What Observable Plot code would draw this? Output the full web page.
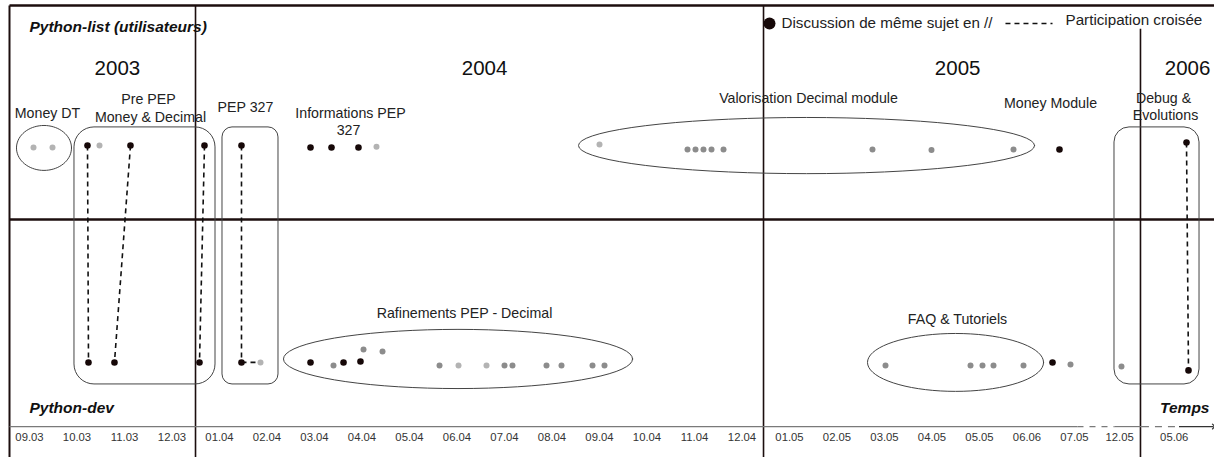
<!DOCTYPE html>
<html>
<head>
<meta charset="utf-8">
<script src="https://cdn.jsdelivr.net/npm/d3@7"></script>
<script src="https://cdn.jsdelivr.net/npm/@observablehq/plot@0.6"></script>
<style>
  html, body { margin: 0; padding: 0; background: #fff; }
  #chart svg { display: block; }
</style>
</head>
<body>
<div id="chart"></div>
<script>
// ---- Time axis (month index on a compressed timeline; 09.03 = 0) ----
const tickLabels = ["09.03","10.03","11.03","12.03","01.04","02.04","03.04","04.04","05.04","06.04","07.04","08.04","09.04","10.04","11.04","12.04","01.05","02.05","03.05","04.05","05.05","06.06","07.05","12.05","05.06"];
const tickMonths = [0,1,2,3,4,5,6,7,8,9,10,11,12,13,14,15,16,17,18,19,20,21,22,22.95,24.1];

// ---- Years ----
const yearNames = ["2003","2004","2005","2006"];
const yearLabelMonths = [1.85, 9.58, 19.54, 24.38];
const yearBoundaryMonths = [3.495, 15.453, 23.389];
const yearBoundaryTop = [1.657, 1.657, 1.55];

// ---- Lanes: 1 = Python-list (utilisateurs), 0 = Python-dev ----
// Discussions: [month, lane level, tone]
const listDiscussions = [
  [0.084, 1.0, "light"], [0.484, 1.0, "light"],
  [1.221, 1.009, "black"], [1.474, 1.009, "light"], [2.126, 1.009, "black"],
  [3.684, 1.009, "black"], [4.463, 1.009, "black"],
  [5.916, 1.0, "black"], [6.358, 1.0, "black"], [6.926, 1.0, "black"], [7.305, 1.003, "light"],
  [12.0, 1.014, "light"],
  [13.853, 0.991, "mid"], [14.021, 0.991, "mid"], [14.189, 0.991, "mid"], [14.358, 0.991, "mid"], [14.611, 0.991, "mid"],
  [17.747, 0.991, "mid"], [18.989, 0.989, "mid"], [20.716, 0.991, "mid"],
  [21.684, 0.991, "black"],
  [24.358, 1.023, "black"]
];
const devDiscussions = [
  [1.242, 0.005, "black"], [1.789, 0.005, "black"], [3.579, 0.005, "black"], [4.463, 0.005, "black"], [4.863, 0.005, "light"],
  [5.916, 0.005, "black"], [6.4, -0.009, "mid"], [6.611, 0.005, "black"], [6.968, 0.009, "black"],
  [7.032, 0.065, "mid"], [7.432, 0.056, "mid"],
  [8.632, -0.009, "mid"], [9.032, -0.009, "light"], [9.621, -0.009, "light"], [10.0, -0.009, "mid"], [10.168, -0.009, "mid"],
  [10.884, -0.009, "mid"], [11.2, -0.009, "mid"], [11.853, -0.009, "mid"], [12.105, -0.009, "mid"],
  [18.021, -0.009, "mid"], [19.811, -0.009, "mid"], [20.063, -0.009, "mid"], [20.295, -0.009, "mid"], [20.926, -0.009, "mid"],
  [21.537, 0.005, "black"], [21.916, -0.005, "mid"], [22.989, -0.014, "mid"],
  [24.4, -0.032, "black"]
];

// Cross participation: [month list, level, month dev, level]
const crossLinks = [
  [1.221, 1.009, 1.242, 0.005],
  [2.126, 1.009, 1.789, 0.005],
  [3.684, 1.009, 3.579, 0.005],
  [4.463, 1.009, 4.463, 0.005],
  [4.463, 0.005, 4.863, 0.005],
  [24.358, 1.023, 24.4, -0.032]
];

// Topic groups drawn as ellipses: [name, centre month, centre level, half-width months, half-height levels]
const topicEllipses = [
  ["Money DT", 0.305, 0.998, 0.579, 0.104],
  ["Rafinements", 9.021, 0.021, 3.674, 0.137],
  ["Valorisation", 16.358, 1.009, 4.8, 0.13],
  ["FAQ", 19.495, 0.005, 1.853, 0.134]
];
// Topic groups drawn as rounded boxes: [name, from month, to month, top level, bottom level, corner]
const topicBoxes = [
  ["Pre PEP", 0.947, 3.916, 1.093, -0.097, 20],
  ["PEP 327", 4.063, 5.242, 1.093, -0.097, 10],
  ["Debug", 22.842, 24.632, 1.093, -0.097, 15]
];

// Labels: [text, month, level, anchor]
const topicLabels = [
  ["Money DT", 0.379, 1.157, "middle"],
  ["Pre PEP", 2.505, 1.222, "middle"],
  ["Money & Decimal", 2.547, 1.139, "middle"],
  ["PEP 327", 4.547, 1.185, "middle"],
  ["Informations PEP", 6.758, 1.157, "middle"],
  ["327", 6.716, 1.079, "middle"],
  ["Valorisation Decimal module", 16.4, 1.227, "middle"],
  ["Money Module", 21.495, 1.204, "middle"],
  ["Debug &", 23.874, 1.227, "middle"],
  ["Evolutions", 23.916, 1.148, "middle"],
  ["Rafinements PEP - Decimal", 9.158, 0.231, "middle"],
  ["FAQ & Tutoriels", 19.537, 0.204, "middle"]
];
const laneTitles = [
  ["Python-list (utilisateurs)", 0.0, 1.557, "start"],
  ["Python-dev", 0.0, -0.208, "start"],
  ["Temps", 24.842, -0.208, "end"]
];

// Frame extents
const frameLeft = -0.421, frameRight = 24.947, frameTop = 1.657, frameBottom = -0.435;
const laneDivider = 0.667, timeAxisLevel = -0.292, tickLabelLevel = -0.343;
// Legend
const legendLevel = 1.574;
const legendItems = [["Discussion de même sujet en //", 15.579, 15.832], ["Participation croisée", 20.547, 21.811]];

// ---- build helper tables ----
const toneColor = {black: "#160808", mid: "#8c8c8c", light: "#b3b3b3"};
const dots = [...listDiscussions, ...devDiscussions].map(([t, v, tone]) => ({t, v, tone}));
const ellipsePts = topicEllipses.flatMap(([name, cx, cy, rx, ry]) =>
  d3.range(0, 73).map(i => {
    const a = (i / 72) * 2 * Math.PI;
    return {name, t: cx + rx * Math.cos(a), v: cy + ry * Math.sin(a)};
  }));
const ticks = tickLabels.map((label, i) => ({label, t: tickMonths[i]}));
const years = yearNames.map((name, i) => ({name, t: yearLabelMonths[i]}));
const boundaries = yearBoundaryMonths.map((t, i) => ({t, top: yearBoundaryTop[i]}));
const txt = arr => arr.map(([text, t, v, anchor]) => ({text, t, v, anchor}));

const frameDark = "#1c0e0e";
const fontFamily = "'Liberation Sans', Arial, Helvetica, sans-serif";

const marks = [
  // frame
  Plot.link([{}], {x1: frameLeft, x2: frameRight, y1: frameTop, y2: frameTop, stroke: frameDark, strokeWidth: 2.5}),
  Plot.link([{}], {x1: frameLeft, x2: frameLeft, y1: frameTop, y2: frameBottom, stroke: frameDark, strokeWidth: 2}),
  Plot.link([{}], {x1: frameLeft, x2: frameRight, y1: laneDivider, y2: laneDivider, stroke: frameDark, strokeWidth: 2.5}),
  // year boundaries
  Plot.link(boundaries, {x1: "t", x2: "t", y1: "top", y2: frameBottom, stroke: frameDark, strokeWidth: 1.6}),
  // time axis
  Plot.link([{}], {x1: frameLeft, x2: 22.063, y1: timeAxisLevel, y2: timeAxisLevel, stroke: "#7a7a7a", strokeWidth: 1.2}),
  Plot.link([{}], {x1: 22.063, x2: 22.84, y1: timeAxisLevel, y2: timeAxisLevel, stroke: "#7a7a7a", strokeWidth: 1.2, strokeDasharray: "6,6"}),
  Plot.link([{}], {x1: 22.84, x2: 23.42, y1: timeAxisLevel, y2: timeAxisLevel, stroke: "#7a7a7a", strokeWidth: 1.2}),
  Plot.link([{}], {x1: 23.42, x2: 24.2, y1: timeAxisLevel, y2: timeAxisLevel, stroke: "#7a7a7a", strokeWidth: 1.2, strokeDasharray: "7,6"}),
  Plot.link([{}], {x1: 24.2, x2: 24.93, y1: timeAxisLevel, y2: timeAxisLevel, stroke: "#333", strokeWidth: 1.2, markerEnd: "arrow"}),
  Plot.text(ticks, {x: "t", y: tickLabelLevel, text: "label", fontSize: 11.3, fill: "#333"}),
  // topic groups
  Plot.line(ellipsePts, {x: "t", y: "v", z: "name", stroke: "#444", strokeWidth: 1, curve: "linear-closed"}),
  ...topicBoxes.map(([name, x1, x2, y1, y2, r]) =>
    Plot.rect([{x1, x2, y1, y2}], {x1: "x1", x2: "x2", y1: "y1", y2: "y2", rx: r, ry: r, fill: "none", stroke: "#444", strokeWidth: 1})),
  // cross participation
  Plot.link(crossLinks, {x1: d => d[0], y1: d => d[1], x2: d => d[2], y2: d => d[3], stroke: "#111", strokeWidth: 1.6, strokeDasharray: "5,4"}),
  // discussions
  Plot.dot(dots, {x: "t", y: "v", r: d => d.tone === "black" ? 4.2 : 3.5, fill: d => toneColor[d.tone], stroke: "none"}),
  // labels
  Plot.text(years, {x: "t", y: 1.366, text: "name", fontSize: 20.5, fill: "#111"}),
  Plot.text(txt(topicLabels), {x: "t", y: "v", text: "text", textAnchor: "middle", fontSize: 14.2, fill: "#222"}),
  Plot.text(txt(laneTitles).filter(d => d.anchor === "start"), {x: "t", y: "v", text: "text", textAnchor: "start", fontSize: 15.5, fontWeight: "bold", fontStyle: "italic", fill: "#111"}),
  Plot.text(txt(laneTitles).filter(d => d.anchor === "end"), {x: "t", y: "v", text: "text", textAnchor: "end", fontSize: 15.5, fontWeight: "bold", fontStyle: "italic", fill: "#111"}),
  // legend
  Plot.dot([legendItems[0]], {x: d => d[1], y: legendLevel, r: 6, fill: "#160808"}),
  Plot.link([legendItems[1]], {x1: d => d[1], x2: d => d[1] + 0.99, y1: legendLevel, y2: legendLevel, stroke: "#111", strokeWidth: 1.5, strokeDasharray: "5,4"}),
  Plot.text(legendItems, {x: d => d[2], y: (d, i) => i === 0 ? legendLevel : legendLevel + 0.014, text: d => d[0], textAnchor: "start", fontSize: 15.2, fill: "#222"})
];

const chart = Plot.plot({
  width: 1214,
  height: 457,
  margin: 0,
  x: {type: "linear", domain: [-29 / 47.5, (1214 - 29) / 47.5], axis: null},
  y: {type: "linear", domain: [-0.4352, 1.6806], axis: null},
  style: {fontFamily, background: "#fff", overflow: "visible"},
  marks
});
document.getElementById("chart").appendChild(chart);
</script>
</body>
</html>
